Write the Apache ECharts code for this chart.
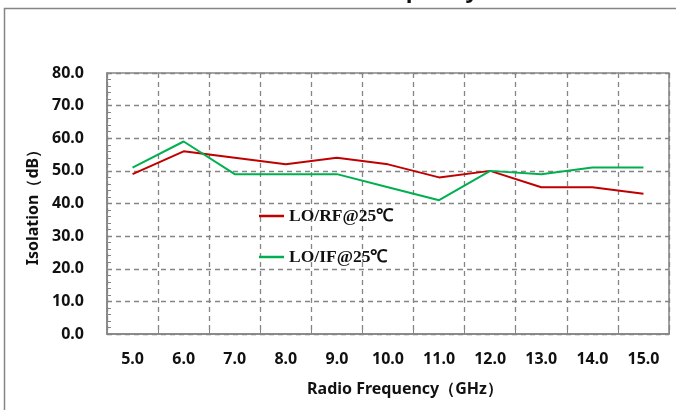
<!DOCTYPE html>
<html>
<head>
<meta charset="utf-8">
<script src="https://cdn.jsdelivr.net/npm/echarts@6/dist/echarts.min.js"></script>
<style>
html,body{margin:0;padding:0;background:#fff;}
#chart{width:676px;height:410px;}
</style>
</head>
<body>
<div id="chart"></div>
<script>
const categories = ['5.0','6.0','7.0','8.0','9.0','10.0','11.0','12.0','13.0','14.0','15.0'];
const loRF = [49, 56, 54, 52, 54, 52, 48, 50, 45, 45, 43];
const loIF = [51, 59, 49, 49, 49, 45, 41, 50, 49, 51, 51];
const seriesNames = ['LO/RF@25℃', 'LO/IF@25℃'];
const xAxisName = 'Radio Frequency（GHz）';
const yAxisName = 'Isolation（dB）';

const chart = echarts.init(document.getElementById('chart'));
const gray = '#858585';
const labelFont = {fontFamily: 'Noto Sans', fontWeight: 'bold', fontSize: 16, color: '#111'};
chart.setOption({
  animation: false,
  backgroundColor: '#fff',
  graphic: [
    {type: 'rect', shape: {x: 4.5, y: 8.5, width: 720, height: 440}, style: {fill: 'none', stroke: gray, lineWidth: 1.5}, silent: true},
    {type: 'text', x: 478, y: 3, style: {text: 'Isolation vs. Frequency', font: 'bold 22px "Noto Sans"', fill: '#111', align: 'right', verticalAlign: 'bottom'}, silent: true}
  ],
  grid: {left: 107, right: 7, top: 73, bottom: 76, show: true, borderColor: gray, borderWidth: 1.5},
  legend: {
    orient: 'vertical', left: 254, top: 202, itemGap: 23,
    icon: 'rect', itemWidth: 25, itemHeight: 2.5,
    data: seriesNames,
    textStyle: {fontFamily: 'Liberation Serif', fontWeight: 'bold', fontSize: 17.5, color: '#111'}
  },
  xAxis: {
    type: 'category', data: categories, boundaryGap: true,
    name: xAxisName, nameLocation: 'middle', nameGap: 47,
    nameTextStyle: Object.assign({}, labelFont, {padding: [0, 0, 0, 34]}),
    axisLine: {lineStyle: {color: gray, width: 1.5}},
    axisTick: {show: true, inside: true, length: 4, lineStyle: {color: gray}},
    axisLabel: Object.assign({margin: 17}, labelFont),
    splitLine: {show: true, lineStyle: {color: gray, type: [5, 4], width: 1.3}}
  },
  yAxis: {
    type: 'value', min: 0, max: 80, interval: 10,
    name: yAxisName, nameLocation: 'middle', nameGap: 66,
    nameTextStyle: labelFont,
    axisLine: {show: true, lineStyle: {color: gray, width: 1.5}},
    axisTick: {show: true, inside: true, length: 4, lineStyle: {color: gray}},
    minorTick: {show: true, splitNumber: 5, length: 4, lineStyle: {color: gray}},
    axisLabel: Object.assign({margin: 23, formatter: v => v.toFixed(1)}, labelFont),
    splitLine: {show: true, lineStyle: {color: gray, type: [5, 4], width: 1.3}}
  },
  series: [
    {name: seriesNames[0], type: 'line', data: loRF, symbol: 'none', lineStyle: {color: '#C00000', width: 2}, itemStyle: {color: '#C00000'}},
    {name: seriesNames[1], type: 'line', data: loIF, symbol: 'none', lineStyle: {color: '#00B050', width: 2}, itemStyle: {color: '#00B050'}}
  ]
});
</script>
</body>
</html>
